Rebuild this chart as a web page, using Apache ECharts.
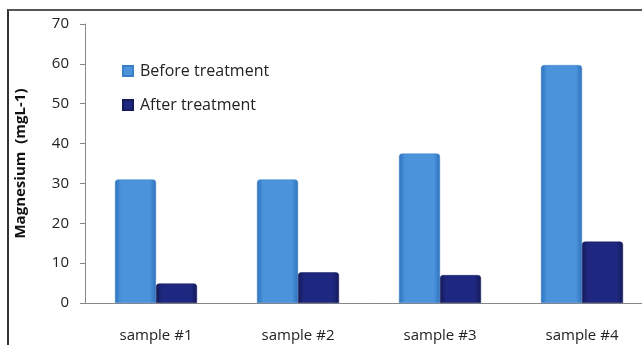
<!DOCTYPE html>
<html>
<head>
<meta charset="utf-8">
<script src="https://cdn.jsdelivr.net/npm/echarts@6/dist/echarts.min.js"></script>
<style>
  html, body { margin: 0; padding: 0; background: #fff; overflow: hidden; width: 642px; height: 345px; }
  #frame { position: absolute; left: 7px; top: 9px; width: 640px; height: 340px;
           border-left: 2px solid #333; border-top: 2px solid #555; box-sizing: border-box; }
  /* plot continues past the right edge of the window, so the canvas is wider */
  #chart { position: absolute; left: 0; top: 0; width: 680px; height: 345px; }
</style>
</head>
<body>
<div id="frame"></div>
<div id="chart"></div>
<script>
const categories = ['sample #1', 'sample #2', 'sample #3', 'sample #4'];
const beforeTreatment = [31.0, 31.0, 37.5, 59.7];
const afterTreatment = [4.9, 7.7, 7.0, 15.4];
const yTicks = { min: 0, max: 70, interval: 10 };

const FONT = '"Open Sans", "DejaVu Sans", sans-serif';

function barGradient(edge, mid) {
  return new echarts.graphic.LinearGradient(0, 0, 1, 0, [
    { offset: 0, color: edge },
    { offset: 0.15, color: mid },
    { offset: 0.85, color: mid },
    { offset: 1, color: edge }
  ]);
}

const chart = echarts.init(document.getElementById('chart'), null, { renderer: 'canvas' });
chart.setOption({
  animation: false,
  backgroundColor: 'transparent',
  textStyle: { fontFamily: FONT },
  grid: { left: 85, top: 24, width: 568, height: 279, containLabel: false },
  legend: {
    orient: 'vertical',
    left: 117,
    top: 58,
    itemGap: 18,
    itemWidth: 10,
    itemHeight: 10,
    icon: 'rect',
    textStyle: { fontFamily: FONT, fontSize: 16, color: '#222', padding: [0, 0, 0, 2] },
    data: ['Before treatment', 'After treatment']
  },
  xAxis: {
    type: 'category',
    data: categories,
    axisLine: { lineStyle: { color: '#888', width: 1 } },
    axisTick: { show: false },
    axisLabel: { color: '#222', fontSize: 15, fontFamily: FONT, margin: 25 }
  },
  yAxis: {
    type: 'value',
    min: yTicks.min,
    max: yTicks.max,
    interval: yTicks.interval,
    name: 'Magnesium  (mgL-1)',
    nameLocation: 'middle',
    nameGap: 57,
    nameTextStyle: { fontFamily: FONT, fontSize: 15, fontWeight: 'bold', color: '#111' },
    axisLine: { show: true, lineStyle: { color: '#888', width: 1 } },
    axisTick: { show: true, length: 5, lineStyle: { color: '#888' } },
    splitLine: { show: false },
    axisLabel: { color: '#222', fontSize: 15, fontFamily: FONT, margin: 16 }
  },
  series: [
    {
      name: 'Before treatment',
      type: 'bar',
      data: beforeTreatment,
      barWidth: 41,
      barGap: '0%',
      itemStyle: {
        color: barGradient('#2f72bd', '#4b93db'),
        borderColor: '#3a7fc8',
        borderWidth: 0.5,
        borderRadius: [3, 3, 0, 0]
      }
    },
    {
      name: 'After treatment',
      type: 'bar',
      data: afterTreatment,
      barWidth: 41,
      barGap: '0%',
      itemStyle: {
        color: barGradient('#141a5a', '#1f2880'),
        borderColor: '#141a5a',
        borderWidth: 0.5,
        borderRadius: [3, 3, 0, 0]
      }
    }
  ]
});
</script>
</body>
</html>
